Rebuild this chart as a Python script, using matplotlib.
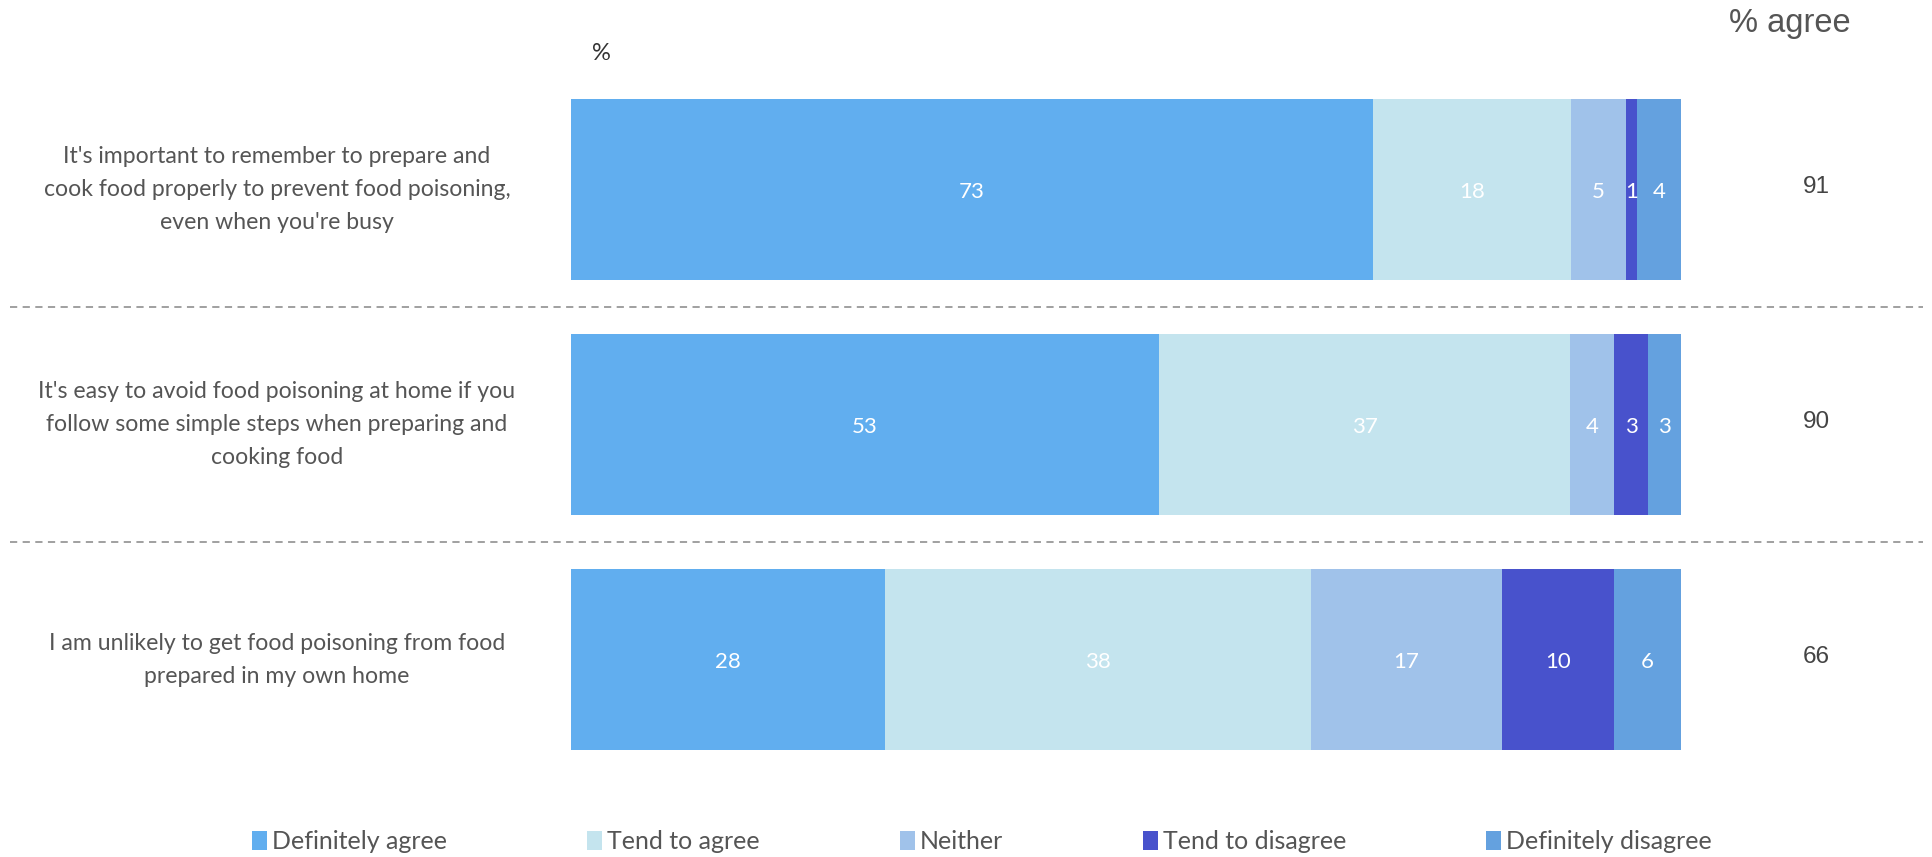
import numpy as np
import matplotlib.pyplot as plt
from matplotlib.patches import Patch

statements = [
    "It's important to remember to prepare and\ncook food properly to prevent food poisoning,\neven when you're busy",
    "It's easy to avoid food poisoning at home if you\nfollow some simple steps when preparing and\ncooking food",
    "I am unlikely to get food poisoning from food\nprepared in my own home",
]
responses = ["Definitely agree", "Tend to agree", "Neither", "Tend to disagree", "Definitely disagree"]
definitely_agree = [73, 53, 28]
tend_to_agree = [18, 37, 38]
neither = [5, 4, 17]
tend_to_disagree = [1, 3, 10]
definitely_disagree = [4, 3, 6]
pct_agree = [91, 90, 66]

colors = ["#61aeef", "#c4e4ee", "#a0c2ea", "#4852cc", "#64a1df"]
text_grey = "#555555"
font = ["Lato", "DejaVu Sans"]

values = np.array([definitely_agree, tend_to_agree, neither, tend_to_disagree, definitely_disagree], dtype=float)
shares = values / values.sum(axis=0) * 100

fig = plt.figure(figsize=(19.33, 8.57), dpi=100)
ax = fig.add_axes([0.2954, 0, 0.5742, 1])
y = np.arange(len(statements))

left = np.zeros(len(statements))
for i, name in enumerate(responses):
    ax.barh(y, shares[i], left=left, height=0.77, color=colors[i], label=name)
    for j in range(len(statements)):
        ax.text(left[j] + shares[i][j] / 2, y[j] + 0.012, f"{int(values[i][j])}",
                ha="center", va="center", color="white", fontsize=16, family=font)
    left += shares[i]

ax.set_xlim(0, 100)
ax.set_ylim(2.84, -0.806)
ax.axis("off")

# dashed separators between the statements
for sep in (0.5, 1.5):
    ax.axhline(sep, xmin=-0.505, xmax=1.218, color="#999999", lw=1.3,
               ls=(0, (4, 3)), clip_on=False)

for j, s in enumerate(statements):
    ax.text(-0.265, y[j], s, transform=ax.get_yaxis_transform(), ha="center", va="center",
            fontsize=16.6, color=text_grey, family=font, linespacing=1.7)
    ax.text(1.122, y[j] - 0.01, str(pct_agree[j]), transform=ax.get_yaxis_transform(),
            ha="center", va="center", fontsize=17.5, color="#444444", family="Liberation Sans")

fig.text(0.926, 0.972, "% agree", ha="center", va="center", fontsize=23.5,
         color=text_grey, family="Liberation Sans")
fig.text(0.311, 0.938, "%", ha="center", va="center", fontsize=17, color="#333333", family=font)

handles = [Patch(facecolor=c, edgecolor="none") for c in colors]
fig.legend(handles, responses, loc="center", bbox_to_anchor=(0.508, 0.018), ncol=5, frameon=False,
           prop={"family": font, "size": 18}, labelcolor=text_grey,
           handlelength=0.6, handleheight=0.8, handletextpad=0.2, columnspacing=5.6)

fig.savefig("out.png", dpi=100, facecolor="white")
